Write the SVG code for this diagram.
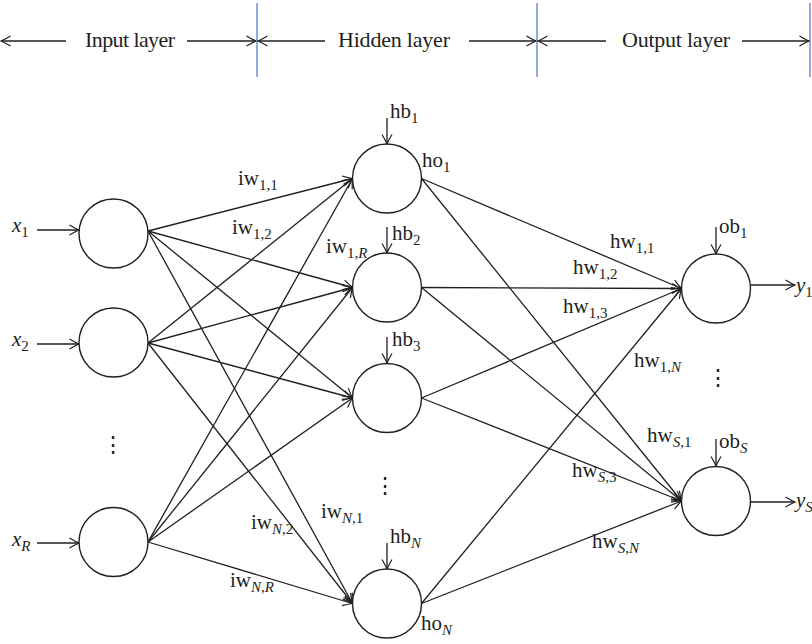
<svg xmlns="http://www.w3.org/2000/svg" width="812" height="644" viewBox="0 0 812 644">
<defs>
<marker id="ah" viewBox="-12 -7 14 14" refX="0" refY="0" markerWidth="14" markerHeight="14" markerUnits="userSpaceOnUse" orient="auto">
<path d="M-9.5,-5 Q-3.5,-1.4 0,0 Q-3.5,1.4 -9.5,5" fill="none" stroke="#231f20" stroke-width="1.2"/>
</marker>
<style>
.ln{stroke:#231f20;stroke-width:1.3;fill:none}
.ar{stroke:#231f20;stroke-width:1.3;fill:none;marker-end:url(#ah)}
.nd{stroke:#231f20;stroke-width:1.4;fill:#fff}
.bl{stroke:#5a7fc2;stroke-width:1.3}
text{font-family:"Liberation Serif","Times New Roman",serif;fill:#231f20}
.hd{font-size:22px}
.lb{font-size:21px}
.sub{font-size:15px}
.it{font-style:italic}
.dots{font-family:"DejaVu Serif",serif;font-size:22px}
</style>
</defs>
<rect width="812" height="644" fill="#fff"/>

<g id="header">
<line class="bl" x1="257" y1="3" x2="257" y2="77"/>
<line class="bl" x1="537" y1="3" x2="537" y2="77"/>
<line class="bl" x1="810" y1="3" x2="810" y2="77"/>
<line class="ar" x1="66" y1="41" x2="1" y2="41"/>
<text class="hd" x="85" y="47" textLength="90">Input layer</text>
<line class="ar" x1="187" y1="41" x2="256" y2="41"/>
<line class="ar" x1="325" y1="41" x2="258" y2="41"/>
<text class="hd" x="338" y="47" textLength="112">Hidden layer</text>
<line class="ar" x1="469" y1="41" x2="536" y2="41"/>
<line class="ar" x1="606" y1="41" x2="538" y2="41"/>
<text class="hd" x="622" y="47" textLength="108">Output layer</text>
<line class="ar" x1="742" y1="41" x2="809" y2="41"/>
</g>

<g id="connectors">
<line class="ar" x1="37" y1="230" x2="79" y2="230"/>
<line class="ar" x1="37" y1="344" x2="79" y2="344"/>
<line class="ar" x1="37" y1="543" x2="79" y2="543"/>
<line class="ar" x1="148" y1="231" x2="352.5" y2="178.5"/>
<line class="ar" x1="148" y1="231" x2="352.5" y2="287.5"/>
<line class="ar" x1="148" y1="231" x2="352.5" y2="398"/>
<line class="ar" x1="148" y1="231" x2="352.5" y2="603.5"/>
<line class="ar" x1="148" y1="343" x2="352.5" y2="178.5"/>
<line class="ar" x1="148" y1="343" x2="352.5" y2="287.5"/>
<line class="ar" x1="148" y1="343" x2="352.5" y2="398"/>
<line class="ar" x1="148" y1="343" x2="352.5" y2="603.5"/>
<line class="ar" x1="148" y1="542" x2="352.5" y2="178.5"/>
<line class="ar" x1="148" y1="542" x2="352.5" y2="287.5"/>
<line class="ar" x1="148" y1="542" x2="352.5" y2="398"/>
<line class="ar" x1="148" y1="542" x2="352.5" y2="603.5"/>
<line class="ar" x1="387" y1="118" x2="387" y2="144"/>
<line class="ar" x1="387" y1="227" x2="387" y2="253"/>
<line class="ar" x1="387" y1="337" x2="387" y2="363"/>
<line class="ar" x1="387" y1="543" x2="387" y2="569"/>
<line class="ar" x1="421.5" y1="178.5" x2="681.5" y2="288.5"/>
<line class="ar" x1="421.5" y1="178.5" x2="681.5" y2="501"/>
<line class="ar" x1="421.5" y1="287.5" x2="681.5" y2="288.5"/>
<line class="ar" x1="421.5" y1="287.5" x2="681.5" y2="501"/>
<line class="ar" x1="421.5" y1="398" x2="681.5" y2="288.5"/>
<line class="ar" x1="421.5" y1="398" x2="681.5" y2="501"/>
<line class="ar" x1="421.5" y1="603.5" x2="681.5" y2="288.5"/>
<line class="ar" x1="421.5" y1="603.5" x2="681.5" y2="501"/>
<line class="ar" x1="716" y1="227" x2="716" y2="254"/>
<line class="ar" x1="716" y1="439" x2="716" y2="466"/>
<line class="ar" x1="750.5" y1="285" x2="795" y2="285"/>
<line class="ar" x1="750.5" y1="502" x2="795" y2="502"/>
</g>

<g id="input1"><circle class="nd" cx="113.5" cy="233.5" r="34.5"/>
<text class="lb" x="12" y="232"><tspan class="it">x</tspan><tspan class="sub" dy="5">1</tspan></text></g>
<g id="input2"><circle class="nd" cx="113.5" cy="342.5" r="34.5"/>
<text class="lb" x="12" y="346"><tspan class="it">x</tspan><tspan class="sub" dy="5">2</tspan></text></g>
<g id="inputR"><circle class="nd" cx="113.5" cy="542" r="34.5"/>
<text class="lb" x="12" y="546"><tspan class="it">x</tspan><tspan class="sub it" dy="5">R</tspan></text></g>
<g id="input-dots"><text class="dots" x="113" y="452" text-anchor="middle">⋮</text></g>

<g id="hidden1"><circle class="nd" cx="387" cy="178.5" r="34.5"/>
<text class="lb" x="390" y="118">hb<tspan class="sub" dy="5">1</tspan></text>
<text class="lb" x="422" y="167">ho<tspan class="sub" dy="5">1</tspan></text></g>
<g id="hidden2"><circle class="nd" cx="387" cy="287.5" r="34.5"/>
<text class="lb" x="392" y="240">hb<tspan class="sub" dy="5">2</tspan></text></g>
<g id="hidden3"><circle class="nd" cx="387" cy="398" r="34.5"/>
<text class="lb" x="392" y="346">hb<tspan class="sub" dy="5">3</tspan></text></g>
<g id="hidden-dots"><text class="dots" x="385" y="493" text-anchor="middle">⋮</text></g>
<g id="hiddenN"><circle class="nd" cx="387" cy="603.5" r="34.5"/>
<text class="lb" x="390" y="543">hb<tspan class="sub it" dy="5">N</tspan></text>
<text class="lb" x="421" y="630">ho<tspan class="sub it" dy="5">N</tspan></text></g>

<g id="output1"><circle class="nd" cx="716" cy="288.5" r="34.5"/>
<text class="lb" x="719" y="233">ob<tspan class="sub" dy="5">1</tspan></text>
<text class="lb" x="796" y="292"><tspan class="it">y</tspan><tspan class="sub" dy="5">1</tspan></text></g>
<g id="output-dots"><text class="dots" x="718" y="385" text-anchor="middle">⋮</text></g>
<g id="outputS"><circle class="nd" cx="716" cy="501" r="34.5"/>
<text class="lb" x="719" y="448">ob<tspan class="sub it" dy="5">S</tspan></text>
<text class="lb" x="796" y="507"><tspan class="it">y</tspan><tspan class="sub it" dy="5">S</tspan></text></g>

<g id="weight-labels">
<text class="lb" x="238" y="185">iw<tspan class="sub" dy="5">1,1</tspan></text>
<text class="lb" x="232" y="234">iw<tspan class="sub" dy="5">1,2</tspan></text>
<text class="lb" x="326" y="253">iw<tspan class="sub" dy="5">1,<tspan class="it">R</tspan></tspan></text>
<text class="lb" x="251" y="529">iw<tspan class="sub" dy="5"><tspan class="it">N</tspan>,2</tspan></text>
<text class="lb" x="321" y="518">iw<tspan class="sub" dy="5"><tspan class="it">N</tspan>,1</tspan></text>
<text class="lb" x="230" y="587">iw<tspan class="sub" dy="5"><tspan class="it">N</tspan>,<tspan class="it">R</tspan></tspan></text>
<text class="lb" x="610" y="248">hw<tspan class="sub" dy="5">1,1</tspan></text>
<text class="lb" x="573" y="274">hw<tspan class="sub" dy="5">1,2</tspan></text>
<text class="lb" x="563" y="313">hw<tspan class="sub" dy="5">1,3</tspan></text>
<text class="lb" x="634" y="367">hw<tspan class="sub" dy="5">1,<tspan class="it">N</tspan></tspan></text>
<text class="lb" x="647" y="442">hw<tspan class="sub" dy="5"><tspan class="it">S</tspan>,1</tspan></text>
<text class="lb" x="572" y="477">hw<tspan class="sub" dy="5"><tspan class="it">S</tspan>,3</tspan></text>
<text class="lb" x="592" y="548">hw<tspan class="sub" dy="5"><tspan class="it">S</tspan>,<tspan class="it">N</tspan></tspan></text>
</g>
</svg>
